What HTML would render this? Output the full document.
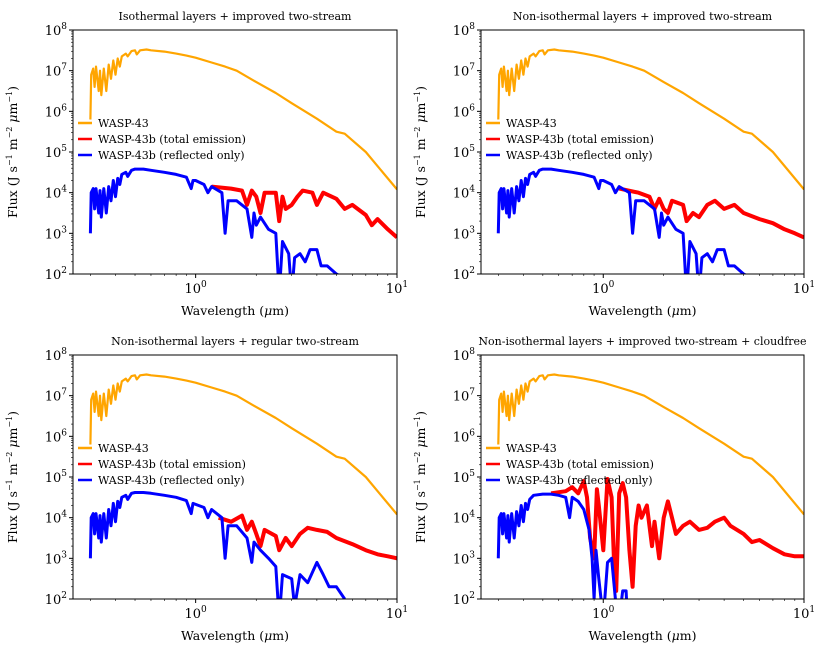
<!DOCTYPE html>
<html><head><meta charset="utf-8"><style>
body{margin:0;background:#fff}
svg text{font-family:"DejaVu Serif","Liberation Serif",serif;fill:#000}
</style></head><body>
<svg id="fig" width="830" height="664" xmlns="http://www.w3.org/2000/svg"></svg>
<script>
const star=[[0.30,5.8],[0.303,6.9],[0.31,7.05],[0.315,6.6],[0.32,7.1],[0.33,6.5],[0.335,7.0],[0.34,6.4],[0.35,7.05],[0.36,6.5],[0.37,7.15],[0.38,6.8],[0.39,7.25],[0.40,6.9],[0.41,7.3],[0.42,7.1],[0.43,7.35],[0.45,7.42],[0.46,7.35],[0.48,7.48],[0.5,7.5],[0.51,7.4],[0.53,7.5],[0.57,7.52],[0.6,7.5],[0.7,7.47],[0.8,7.42],[0.9,7.37],[1.0,7.32],[1.2,7.2],[1.4,7.1],[1.6,7.0],[2.0,6.72],[2.5,6.45],[3,6.2],[4,5.82],[5,5.5],[5.5,5.45],[7,5.0],[10,4.08]];
const refl1=[[0.30,3.0],[0.303,4.0],[0.31,4.1],[0.315,3.6],[0.32,4.1],[0.33,3.5],[0.335,4.05],[0.34,3.4],[0.35,4.1],[0.36,3.5],[0.37,4.15],[0.38,3.8],[0.39,4.3],[0.40,3.9],[0.41,4.35],[0.42,4.2],[0.43,4.45],[0.45,4.5],[0.46,4.4],[0.48,4.55],[0.5,4.58],[0.55,4.58],[0.6,4.55],[0.7,4.5],[0.8,4.45],[0.9,4.38],[0.95,4.1],[0.97,4.3],[1.0,4.3],[1.1,4.2],[1.15,4.0],[1.2,4.15],[1.35,4.0],[1.4,3.0],[1.45,3.8],[1.6,3.8],[1.8,3.6],[1.9,2.9],[1.95,3.5],[2.0,3.2],[2.1,3.4],[2.3,3.1],[2.5,3.0],[2.6,1.5],[2.7,2.8],[2.9,2.5],[3.0,1.5],[3.1,2.4],[3.3,2.5],[3.5,2.3],[3.7,2.6],[4.0,2.6],[4.2,2.2],[4.5,2.2],[5.0,2.0],[5.5,1.9]];
const tot1=[[1.2,4.15],[1.5,4.1],[1.7,4.05],[1.8,3.7],[1.9,4.05],[2.0,3.9],[2.1,3.5],[2.2,4.0],[2.5,4.0],[2.6,3.3],[2.7,3.9],[2.8,3.6],[3.0,3.7],[3.2,3.9],[3.4,4.05],[3.8,4.0],[4.0,3.7],[4.3,4.0],[5.0,3.85],[5.5,3.6],[6.0,3.7],[7.0,3.45],[7.5,3.2],[8.0,3.35],[9.0,3.1],[10,2.9]];
const refl2=refl1;
const tot2=[[1.2,4.1],[1.5,4.0],[1.7,3.9],[1.8,3.6],[1.9,3.85],[2.0,3.6],[2.1,3.5],[2.2,3.8],[2.5,3.7],[2.6,3.3],[2.8,3.5],[3.0,3.4],[3.3,3.7],[3.6,3.8],[4.0,3.6],[4.5,3.7],[5.0,3.5],[6.0,3.35],[7.0,3.25],[8.0,3.1],[9.0,3.0],[10,2.9]];
const refl3=[[0.30,3.0],[0.303,4.0],[0.31,4.1],[0.315,3.6],[0.32,4.1],[0.33,3.5],[0.335,4.05],[0.34,3.4],[0.35,4.1],[0.36,3.5],[0.37,4.2],[0.38,3.8],[0.39,4.35],[0.40,3.9],[0.41,4.4],[0.42,4.25],[0.43,4.5],[0.45,4.55],[0.46,4.45],[0.48,4.6],[0.5,4.62],[0.55,4.62],[0.6,4.6],[0.7,4.55],[0.8,4.5],[0.9,4.42],[0.95,4.1],[0.97,4.35],[1.1,4.25],[1.15,4.0],[1.2,4.2],[1.35,4.0],[1.4,3.0],[1.45,3.8],[1.6,3.8],[1.8,3.5],[1.9,2.9],[1.95,3.4],[2.1,3.2],[2.3,3.0],[2.5,2.8],[2.6,1.5],[2.7,2.6],[3.0,2.5],[3.1,1.8],[3.3,2.6],[3.6,2.4],[4.0,2.9],[4.3,2.6],[4.6,2.3],[5.0,2.3],[5.5,2.0]];
const tot3=[[1.3,4.0],[1.5,3.9],[1.7,4.05],[1.8,3.7],[1.9,3.9],[2.0,3.6],[2.1,3.3],[2.2,3.7],[2.5,3.55],[2.6,3.2],[2.8,3.5],[3.0,3.3],[3.3,3.6],[3.6,3.75],[4.0,3.7],[4.5,3.65],[5.0,3.5],[6.0,3.35],[7.0,3.2],[8.0,3.1],[9.0,3.05],[10,3.0]];
const refl4=[[0.30,3.0],[0.303,4.0],[0.31,4.1],[0.315,3.6],[0.32,4.1],[0.33,3.5],[0.335,4.05],[0.34,3.4],[0.35,4.1],[0.36,3.5],[0.37,4.15],[0.38,3.8],[0.39,4.3],[0.40,3.9],[0.41,4.35],[0.42,4.2],[0.43,4.45],[0.45,4.55],[0.5,4.58],[0.55,4.58],[0.6,4.55],[0.65,4.5],[0.68,4.0],[0.7,4.5],[0.75,4.4],[0.8,4.2],[0.85,3.7],[0.88,3.0],[0.9,2.0],[0.92,3.2],[0.95,2.5],[1.0,1.5],[1.05,2.9],[1.1,3.0],[1.15,2.0],[1.2,1.5],[1.25,2.2],[1.3,2.2],[1.32,1.5]];
const tot4=[[0.55,4.6],[0.65,4.65],[0.7,4.75],[0.75,4.6],[0.8,4.9],[0.83,4.5],[0.86,3.5],[0.9,3.0],[0.93,4.7],[0.95,4.3],[1.0,3.2],[1.05,4.95],[1.1,4.5],[1.13,3.0],[1.16,2.2],[1.2,4.6],[1.25,4.85],[1.3,4.5],[1.35,3.2],[1.4,2.3],[1.45,3.8],[1.5,4.3],[1.55,4.0],[1.65,4.3],[1.75,3.3],[1.8,3.9],[1.9,3.0],[2.0,4.0],[2.1,4.4],[2.2,4.0],[2.3,3.6],[2.5,3.8],[2.7,3.9],[3.0,3.7],[3.3,3.75],[3.6,3.9],[4.0,4.0],[4.3,3.8],[5.0,3.6],[5.5,3.4],[6.0,3.45],[7.0,3.25],[8.0,3.1],[9.0,3.05],[10,3.05]];
const titles=["Isothermal layers + improved two-stream","Non-isothermal layers + improved two-stream","Non-isothermal layers + regular two-stream","Non-isothermal layers + improved two-stream + cloudfree"];
const reflSeries=[refl1,refl2,refl3,refl4];
const totSeries=[tot1,tot2,tot3,tot4];
const yTicks=[2,3,4,5,6,7,8];
const xTicks=[0,1];
const legendLabels=["WASP-43","WASP-43b (total emission)","WASP-43b (reflected only)"];
const colors=["#ffa500","#ff0000","#0000ff"];

const NS="http://www.w3.org/2000/svg";
const fig=document.getElementById('fig');
function mk(tag,attrs,parent){const e=document.createElementNS(NS,tag);for(const k in attrs)e.setAttribute(k,attrs[k]);parent.appendChild(e);return e;}
const boxes=[[73,30,397,274],[481,30,804,274],[73,355,397,599],[481,355,804,599]];
const XMIN=Math.log10(0.246),XMAX=1,YMIN=2,YMAX=8;
boxes.forEach((b,i)=>{
  const [x0,y0,x1,y1]=b;
  const g=mk('g',{},fig);
  
  
  const sx=w=>x0+(Math.log10(w)-XMIN)/(XMAX-XMIN)*(x1-x0);
  const sxl=l=>x0+(l-XMIN)/(XMAX-XMIN)*(x1-x0);
  const sy=v=>y1-(v-YMIN)/(YMAX-YMIN)*(y1-y0);
  const cp=mk('clipPath',{id:'c'+i},g);mk('rect',{x:x0,y:y0,width:x1-x0,height:y1-y0},cp);
  const t=mk('text',{x:(x0+x1)/2,y:y0-10,'text-anchor':'middle','font-size':'11'},g);t.textContent=titles[i];
  
  
  const series=[star,totSeries[i],reflSeries[i]];
  const widths=[2.2,4,3];
  [1,2,0].forEach(k=>{
    const d=series[k].map((p,j)=>(j?'L':'M')+sx(p[0]).toFixed(1)+','+sy(p[1]).toFixed(1)).join('');
    const p=mk('path',{d:d,fill:'none',stroke:colors[k],'stroke-width':widths[k],'stroke-linejoin':'round','clip-path':'url(#c'+i+')'},g);
    
    
  });
  const fr=mk('rect',{x:x0,y:y0,width:x1-x0,height:y1-y0,fill:'none',stroke:'#000','stroke-width':1},g);
  
  
  yTicks.forEach(v=>{
    const y=sy(v);
    mk('line',{x1:x0-4,x2:x0,y1:y,y2:y,stroke:'#000'},g);
    if(v<YMAX) for(let m=2;m<10;m++){const yy=sy(v+Math.log10(m));mk('line',{x1:x0-2,x2:x0,y1:yy,y2:yy,stroke:'#000','stroke-width':0.6},g);}
    const tx=mk('text',{x:x0-6,y:y+5,'text-anchor':'end','font-size':'13'},g);
    tx.innerHTML='10<tspan dy="-6" font-size="9">'+v+'</tspan>';
    
    
  });
  xTicks.forEach(v=>{
    const x=sxl(v);
    mk('line',{x1:x,x2:x,y1:y1,y2:y1+4,stroke:'#000'},g);
    const tx=mk('text',{x:x,y:y1+19,'text-anchor':'middle','font-size':'13'},g);
    tx.innerHTML='10<tspan dy="-6" font-size="9">'+v+'</tspan>';
    
    
  });
  [0.3,0.4,0.5,0.6,0.7,0.8,0.9,2,3,4,5,6,7,8,9].forEach(w=>{const x=sx(w);mk('line',{x1:x,x2:x,y1:y1,y2:y1+2,stroke:'#000','stroke-width':0.6},g);});
  const xl=mk('text',{x:(x0+x1)/2,y:y1+41,'text-anchor':'middle','font-size':'12.5'},g);
  xl.innerHTML='Wavelength (<tspan font-style="italic">μ</tspan>m)';
  
  
  const yl=mk('text',{transform:'translate('+(x0-56)+','+((y0+y1)/2)+') rotate(-90)','text-anchor':'middle','font-size':'12.5'},g);
  yl.innerHTML='Flux (J s<tspan dy="-5" font-size="8">−1</tspan><tspan dy="5"> m</tspan><tspan dy="-5" font-size="8">−2</tspan><tspan dy="5"> </tspan><tspan font-style="italic">μ</tspan>m<tspan dy="-5" font-size="8">−1</tspan><tspan dy="5">)</tspan>';
  
  
  legendLabels.forEach((lab,k)=>{
    const ly=y0+93+k*16;
    const ln=mk('line',{x1:x0+5,x2:x0+19,y1:ly,y2:ly,stroke:colors[k],'stroke-width':2.5},g);
    
    
    const tx=mk('text',{x:x0+25,y:ly+4,'font-size':'11'},g);tx.textContent=lab;
    
    
  });
});
</script>
</body></html>
